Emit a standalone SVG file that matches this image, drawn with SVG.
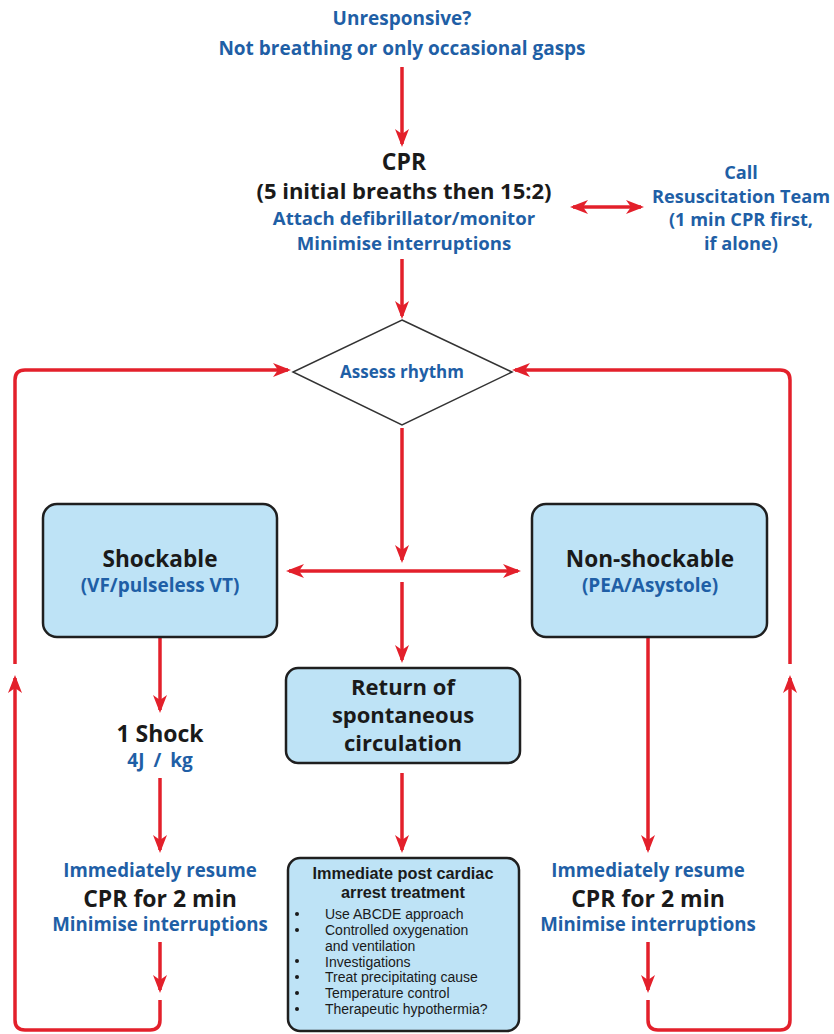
<svg xmlns="http://www.w3.org/2000/svg" width="834" height="1034" viewBox="0 0 834 1034">
<defs>
<marker id="ah" viewBox="0 0 18 14" refX="15" refY="7" markerWidth="18" markerHeight="14" markerUnits="userSpaceOnUse" orient="auto-start-reverse">
<path d="M0,0 L18,7 L0,14 L5,7 z" fill="#e3202b"/>
</marker>
</defs>
<style>
text{font-family:"Open Sans","Noto Sans","DejaVu Sans",sans-serif;font-weight:bold;text-anchor:middle}
.b{fill:#1f5fa6}
.k{fill:#1a1a1a}
.box{fill:#bee3f6;stroke:#1f1f1f;stroke-width:2.5}
.c{fill:none;stroke:#e3202b;stroke-width:3.5;stroke-linejoin:round}
.a{marker-end:url(#ah)}
.d{marker-start:url(#ah);marker-end:url(#ah)}
text.t{font-family:"Liberation Sans",Arial,sans-serif}
text.li{font-family:"Liberation Sans",Arial,sans-serif;text-anchor:start;font-weight:normal;font-size:14px;fill:#1a1a1a}
.bu{fill:#1a1a1a}
</style>
<g id="connectors">
<path class="c a" d="M402,67 V144"/>
<path class="c d" d="M573,207 H641"/>
<path class="c a" d="M402,259 V316"/>
<path class="c a" d="M402,428 V560"/>
<path class="c d" d="M289,571 H518"/>
<path class="c a" d="M402,582 V660"/>
<path class="c a" d="M402,773 V850"/>
<path class="c a" d="M160,637 V710"/>
<path class="c a" d="M160,778 V850"/>
<path class="c a" d="M160,942 V990"/>
<path class="c a" d="M160,1000 V1020 Q160,1030 150,1030 H25 Q15,1030 15,1020 V678"/>
<path class="c a" d="M15,664 V380 Q15,370 25,370 H288"/>
<path class="c a" d="M648,637 V850"/>
<path class="c a" d="M648,942 V990"/>
<path class="c a" d="M648,1000 V1020 Q648,1030 658,1030 H780 Q790,1030 790,1020 V678"/>
<path class="c a" d="M790,664 V380 Q790,370 780,370 H515"/>
</g>
<g id="start">
<text class="b" x="402" y="25" font-size="19">Unresponsive?</text>
<text class="b" x="402" y="55" font-size="19">Not breathing or only occasional gasps</text>
</g>
<g id="cpr">
<text class="k" x="404" y="169.5" font-size="23">CPR</text>
<text class="k" x="404" y="199" font-size="22">(5 initial breaths then 15:2)</text>
<text class="b" x="404" y="225" font-size="18.6">Attach defibrillator/monitor</text>
<text class="b" x="404" y="250" font-size="18.6">Minimise interruptions</text>
</g>
<g id="call">
<text class="b" x="741" y="179" font-size="18.2">Call</text>
<text class="b" x="741" y="203" font-size="18.2">Resuscitation Team</text>
<text class="b" x="741" y="226" font-size="18.2">(1 min CPR first,</text>
<text class="b" x="741" y="250" font-size="18.2">if alone)</text>
</g>
<g id="assess">
<polygon points="402,320 512,372 402,425 293,372" fill="#fff" stroke="#333" stroke-width="1.5"/>
<text class="b" x="402" y="378" font-size="17">Assess rhythm</text>
</g>
<g id="shockable">
<rect class="box" x="43" y="504" width="234" height="133" rx="14"/>
<text class="k" x="160" y="567" font-size="22.6">Shockable</text>
<text class="b" x="160" y="592" font-size="19">(VF/pulseless VT)</text>
</g>
<g id="nonshockable">
<rect class="box" x="532" y="504" width="235" height="133" rx="14"/>
<text class="k" x="650" y="567" font-size="22.6">Non-shockable</text>
<text class="b" x="650" y="592" font-size="19">(PEA/Asystole)</text>
</g>
<g id="rosc">
<rect class="box" x="286" y="668" width="234" height="95" rx="12"/>
<text class="k" x="403" y="695" font-size="22">Return of</text>
<text class="k" x="403" y="723" font-size="22">spontaneous</text>
<text class="k" x="403" y="751" font-size="22">circulation</text>
</g>
<g id="shock">
<text class="k" x="160" y="742" font-size="23">1 Shock</text>
<text class="b" x="160" y="767" font-size="19" word-spacing="4">4J / kg</text>
</g>
<g id="cpr-left">
<text class="b" x="160" y="877" font-size="18.7">Immediately resume</text>
<text class="k" x="160" y="907" font-size="23">CPR for 2 min</text>
<text class="b" x="160" y="931" font-size="18.7">Minimise interruptions</text>
</g>
<g id="cpr-right">
<text class="b" x="648" y="877" font-size="18.7">Immediately resume</text>
<text class="k" x="648" y="907" font-size="23">CPR for 2 min</text>
<text class="b" x="648" y="931" font-size="18.7">Minimise interruptions</text>
</g>
<g id="post">
<rect class="box" x="288" y="858" width="231" height="173" rx="12"/>
<text class="k t" x="403" y="879" font-size="16.3">Immediate post cardiac</text>
<text class="k t" x="403" y="897.5" font-size="16.3">arrest treatment</text>
<circle class="bu" cx="297" cy="914" r="2"/>
<circle class="bu" cx="297" cy="930" r="2"/>
<circle class="bu" cx="297" cy="961" r="2"/>
<circle class="bu" cx="297" cy="977" r="2"/>
<circle class="bu" cx="297" cy="993" r="2"/>
<circle class="bu" cx="297" cy="1009" r="2"/>
<text class="li" x="325" y="919">Use ABCDE approach</text>
<text class="li" x="325" y="935">Controlled oxygenation</text>
<text class="li" x="325" y="950.8">and ventilation</text>
<text class="li" x="325" y="966.6">Investigations</text>
<text class="li" x="325" y="982.4">Treat precipitating cause</text>
<text class="li" x="325" y="998.2">Temperature control</text>
<text class="li" x="325" y="1014">Therapeutic hypothermia?</text>
</g>
</svg>
